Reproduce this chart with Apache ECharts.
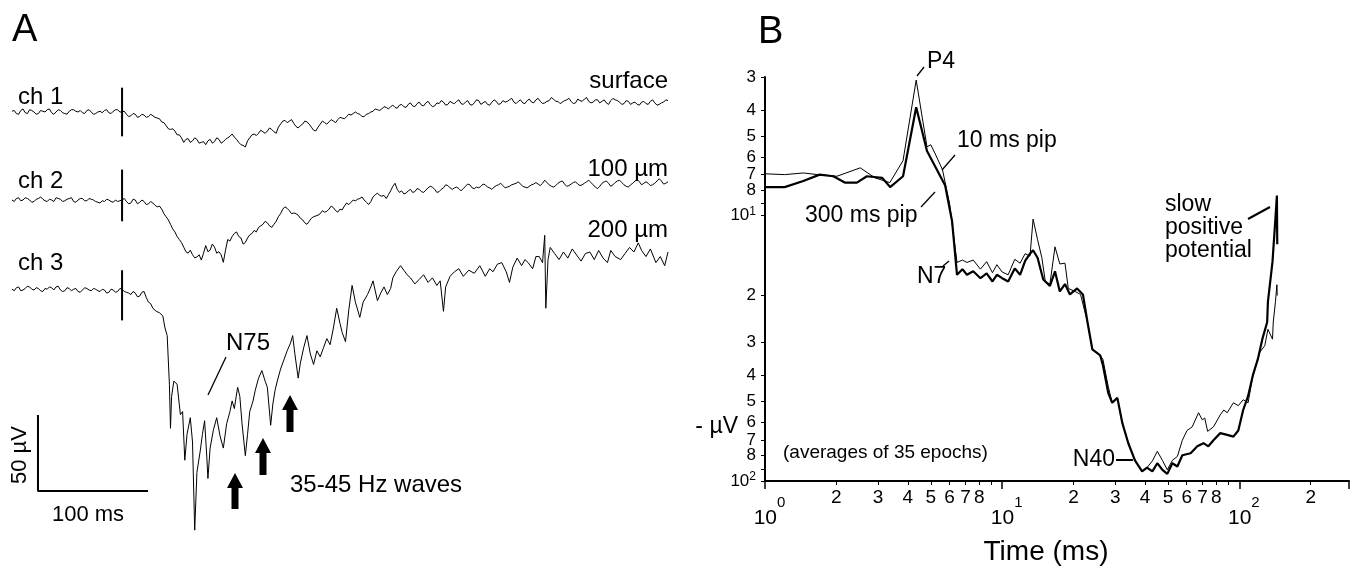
<!DOCTYPE html>
<html>
<head>
<meta charset="utf-8">
<script src="https://cdn.jsdelivr.net/npm/echarts@6/dist/echarts.min.js"></script>
<style>
html, body { margin: 0; padding: 0; background: #fff; }
#main { width: 1351px; height: 568px; }
</style>
</head>
<body>
<div id="main"></div>
<script>
// ---- panel A : single trials, sampled every 2 ms from -100 ms (stimulus at 0), uV
var tStart = -100, tStep = 2;
var ch1 = [
	0.5,1,-1,-1.5,1,2,-0.5,-1,1.5,1,  0,-1.5,-1,1,0.5,0,1.5,2,-0.5,-1.5,
	0,1.5,1,-0.5,-1,-1.5,0.5,1.5,1.5,0.5,  0,1,-0.5,-1,1,1.5,0,-1.5,-1,0,
	0.5,-0.5,1,1.5,-0.5,-1,0.5,1.5,1.5,0,
	0,0.5,-1.5,-3,-2.5,-1,-1.5,-3.5,-3,-1.5,  -2,-3.5,-3,-1.5,-2.5,-3.5,-4,-4.5,-6.5,-7,
	-9,-11,-11.5,-11,-12.5,-15,-15,-17,-20,-18,  -17.5,-20,-19,-17,-18,-20.5,-20,-19.5,-21.5,-19,
	-18,-20.5,-19.5,-17,-18,-20.5,-19.5,-18,-17,-16,  -14.5,-16.5,-18,-20,-21.5,-22,-23,-19,-17,-15,
	-14.5,-15.5,-14,-12,-13,-14,-12.5,-10.5,-11.5,-13,  -14,-10,-8,-6,-5.5,-7,-6,-5,-7.5,-9.5,
	-10.5,-9,-8,-6,-6.5,-8,-10,-12,-12.5,-10,  -8,-6,-7,-8,-6.5,-5,-6,-7,-5,-3.5,
	-4,-4.5,-3,-1.5,-2,-1,0,-1,-1.5,-3,  -3,-1.5,-1,0,0.5,2,1.5,1,2,3.5,
	3,2,3.5,4.5,3,2.5,4.5,5,3.5,3,  5,6,4,3.5,5.5,6.5,4.5,4,6,7,
	5,3.5,4,6,5.5,7.5,6.5,4.5,5,7,  6,5.5,7,8,5.5,5,6.5,7.5,5,4.5,
	6,8,7.5,5,6,7,5,4.5,6.5,8,  7,5,5.5,7.5,6.5,7,8,9,6.5,5.5,
	7,8,6,5.5,7.5,8.5,6.5,6,8,9,  7,5.5,6,7,7.5,9.5,8.5,7,7,5.5,
	6.5,7.5,8,9,7,5.5,6,8.5,7.5,7,  8.5,9.5,7,6,6.5,8,8,6,7,8,
	6,5,7.5,9,8,7.5,6.5,5,5.5,7.5,  7,5,6,6.5,5,4.5,6.5,7,5.5,5,
	7,8,6,4.5,5,6,6.5,8,7.5];
var ch2 = [
	0,-1,1,1.5,-0.5,0,1.5,1,0,-1.5,  -1,0.5,1,2,0.5,-0.5,-1,0.5,0,-1,
	1.5,1,0.5,-1,-0.5,0.5,1,1.5,-1,-1.5,  0,1,1,-0.5,-0.5,1,0.5,0,-1,-1.5,
	-2,-0.5,-1,0.5,0,-1,-1.5,0,-1,-0.5,
	0,1,-1,-2.5,-2,0.5,0,-2.5,-1.5,0,  -1,-3,-2.5,-1,-2,-3.5,-4.5,-4,-6,-9,
	-11,-13,-16,-19,-21,-24,-26,-28,-31,-34,  -35,-33,-36,-38,-37.5,-36,-39.5,-35,-30,-34,
	-33,-29,-31,-35,-34,-36,-41,-33,-26,-27,  -24,-22,-21,-24,-25,-29,-28,-25,-23,-22,
	-20,-21,-18,-17,-16,-14,-15,-17,-18,-16,  -14,-11,-9,-6,-4.5,-5.5,-7,-9,-8.5,-9,
	-10,-12,-13,-15,-16,-14,-12,-11,-10.5,-10,  -9,-7,-8,-7.5,-6,-4,-5,-7,-8,-6,
	-6.5,-4,-2,-3,-1.5,0,-0.5,0.5,1,2,  0,-1.5,-3,-1,2,3.5,4.5,3,2.5,3,
	1,3.5,6,9,11,7,5,6,4,4.5,  6,7,5,5.5,7.5,7,5.5,5,6.5,8,
	9,8.5,7,5,5.5,7,8,10,9.5,8,  7,8,8.5,7.5,6,7.5,9,10.5,10,8,
	7.5,8.5,8,9,10.5,10,8.5,8,7,8.5,  9.5,10,11,9.5,8,8.5,9,10,10.5,11,
	12,10.5,9,8.5,8,9,10,10.5,11.5,10.5,  9.5,11,13,11.5,10,9,8.5,9.5,11,12,
	12.5,10.5,9,9.5,10.5,11.5,12,10.5,9.5,10,  11,12,13,11.5,10,8.5,7.5,9,11,12,
	12.5,11,9,10,11.5,12.5,13,11.5,10,9,  8.5,10,11,12.5,13.5,12,10,11,12,11,
	9.5,10,11,12.5,14,12.5,10.5,11,12];
// ch3 digitised as [ms, uV] pairs, denser where it is spiky
var ch3 = [[-100,0.5],[-98,-0.5],[-96,1.5],[-94,2],[-92,-0.5],[-90,0],[-88,1],[-86,2.5],[-84,2],[-82,0.5],[-80,0],[-78,1.5],
	[-76,1],[-74,-0.5],[-72,-1],[-70,1],[-68,0.5],[-66,2],[-64,1.5],[-62,0],[-60,2],[-58,2.5],[-56,0],[-54,-1],[-52,-0.5],
	[-50,1.5],[-48,1],[-46,-0.5],[-44,0.5],[-42,1],[-40,-1],[-38,-1.5],[-36,0],[-34,1.5],[-32,1],[-30,0],[-28,-0.5],[-26,1],
	[-24,0.5],[-22,-0.5],[-20,-1],[-18,0.5],[-16,0],[-14,-2],[-12,-1.5],[-10,0.5],[-8,0],[-6,-1.5],[-4,-1],[-2,1],[0,0.5],
	[2,-1],[4,-1.5],[6,-2],[8,-3],[10,-1],[12,-2],[14,-4.5],[16,-4],[18,-1.5],[20,-1],[22,-5],[24,-8],[26,-9],[28,-12],
	[31,-14],[34,-15],[37,-17],[39,-25],[41,-30],[43,-62],[44,-91],
	[45,-70],[47,-60],[50,-62],[53,-82],[55,-80],[57,-112],[59,-95],[62,-84],[64,-100],[66,-158],[68,-120],[71,-106],[73,-95],
	[75,-86],[77,-110],[78,-124],[80,-104],[83,-92],[86,-84],[89,-96],[92,-104],[95,-88],[98,-80],[100,-73],[102,-78],[105,-64],
	[107,-70],[109,-88],[112,-109],[114,-95],[116,-80],[119,-73],[121,-66],[124,-58],[127,-53],[130,-60],[132,-64],[135,-89],
	[137,-75],[139,-66],[141,-60],[144,-52],[147,-46],[150,-40],[153,-35],[155,-30],[157,-42],[160,-58],[162,-48],[165,-38],
	[168,-30],[171,-42],[174,-49],[177,-40],[180,-44],[183,-38],[186,-32],[189,-36],[192,-25],[195,-12],[198,-22],[200,-28],
	[203,-34],[206,-13],[209,3],[212,-8],[216,-18],[219,-8],[223,-3],[226,2],[228,6],[232,-7],[235,-2],[238,2],[241,-3],[244,1],
	[246,8],[249,12],[253,16],[256,13],[259,10],[262,8],[266,4],[270,7],[274,10],[278,5],[282,8],[286,3],[289,6],[292,-14],
	[294,2],[298,9],[302,12],[306,14],[310,9],[315,13],[320,11],[325,16],[330,9],[334,14],[337,12],[341,17],[345,18],[349,12],
	[352,5],[355,15],[359,21],[363,16],[366,20],[369,18],[373,14],[376,22],[379,22],[382,18],[384,36],[385,-12],[387,20],[389,28],
	[393,24],[397,20],[401,25],[405,21],[409,27],[413,23],[417,19],[421,24],[425,25],[429,20],[433,26],[437,21],[441,18],[444,26],
	[448,22],[453,20],[457,24],[461,28],[465,25],[469,31],[472,26],[476,22],[480,27],[485,18],[489,22],[493,16],[496,25]];
var scaleBarMs = 100, scaleBarUv = 50;

// ---- panel B : averages, time (ms) against -uV, both log
var pip10Time = [1,1.21,1.45,1.67,2.01,2.52,2.91,3.36,3.82,4.34,4.82,5.0,5.2,5.6,6.0,6.45,6.8,7.1,7.55,8.1,8.6,9.1,9.5,10.0,10.6,
	11.3,11.9,12.5,13.1,13.5,14.1,14.7,15.2,15.9,16.7,17.5,18.4,19.0,20.3,21.4,22.9,24.0,25.9,26.6,28.0,29.1,30.6,32.1,34.0,36.3,
	38.9,40.8,43.0,45.1,47.4,49.7,52.2,54.8,57.5,60.2,63.3,67.3,69.8,71.5,73.5,77.8,83.1,86,88.9,94.4,99,103.8,108.9,114,122,128,
	132,138,139,142,144,144.5];
var pip10Uv = [6.95,7.0,6.9,7.0,7.1,6.6,7.2,7.5,6.2,3.08,5.5,5.4,5.8,6.7,9.0,15,14.7,15,14.7,15.9,14.9,16.4,15.3,16.3,16.7,
	14.6,15.1,13.9,14.2,10.3,12.3,14.4,17.7,18.1,13.1,15.2,15.1,18.8,19.3,19.8,25.2,31.9,33.6,34.8,44,50.7,48.6,60.4,71.9,83.6,
	92,89,84,77.3,83.6,90.8,83.6,80.8,70.2,64.5,62.5,55.3,58.8,57.9,65,62.5,56.3,54,55.3,50.7,52,49.4,50.7,40,32.7,30.9,
	26.8,29.2,25.2,21.1,18.2,20];
var pip300Time = [1,1.21,1.45,1.7,1.94,2.17,2.44,2.69,3.12,3.37,3.82,4.34,4.82,5.3,5.75,6.15,6.45,6.8,7.1,7.55,8.1,8.6,9.1,9.5,
	10.0,10.6,11.3,11.9,12.5,13.1,13.5,14.1,14.9,15.9,16.7,17.5,18.4,19.3,20.7,21.9,22.9,24.0,25.9,26.6,28.0,29.1,30.6,32.1,34.0,
	36.3,38.9,40.8,43.0,45.1,47.4,49.7,52.2,54.8,57.5,62.3,66.5,70.6,74,77.8,83.1,88.9,94.4,99,103.8,108.9,114,119.6,125,131,132,
	138,142,144,144.5];
var pip300Uv = [7.8,7.8,7.4,7.0,7.1,7.5,7.5,7.1,7.2,7.8,7.1,3.9,5.7,6.7,7.7,10.5,16.7,15.9,16.7,16.2,17.2,16.5,17.7,16.7,
	17.2,17.7,15.8,16.7,14.8,13.9,13.5,14.4,17.4,18.4,16.2,19.3,18.1,19.8,18.8,19.8,25.2,31.9,33.6,36.6,46.5,50.7,48.6,60.4,71.9,
	83.6,92,89,92,85.7,90.8,94,85.7,88.2,80,78.6,74,72,74,70.2,66,67,68,64.5,54,47.8,40,34.8,29.2,25.2,21.1,
	14.9,10.2,8.4,12.8];

var yTickVals = [3,4,5,6,7,8,9,10,20,30,40,50,60,70,80,90,100];
var yLabelVals = [3,4,5,6,7,8,10,20,30,40,50,60,70,80,100];
var xTickVals = [2,3,4,5,6,7,8,9,20,30,40,50,60,70,80,90,200];
var xLabelVals = [1,2,3,4,5,6,7,8,10,20,30,40,50,60,70,80,100,200];

// ---- layout
var FONT = '"Liberation Sans", Arial, sans-serif';
var pxPerUv = 1.52;
var base = [300, 242.1, 182.9];         // baselines of ch1..ch3 in panel A units
var stim = [[16, -16], [20, -14], [13, -20]];

function sampled(vals, off) {
	return vals.map(function (v, i) { return [tStart + i * tStep, v + off]; });
}
function shifted(pairs, off) {
	return pairs.map(function (p) { return [p[0], p[1] + off]; });
}
function zip(a, b) {
	return a.map(function (t, i) { return [t, b[i]]; });
}
function lg(v) { return Math.log10(v); }
// decades read 10^n, the rest only their leading digit
function powLabel(v) {
	var e = Math.floor(v + 1e-9);
	var m = Math.round(Math.pow(10, v - e));
	if (m === 1) return '{b|10}{s|' + e + '}';
	return '{m|' + m + '}';
}

var series = [];
function trace(data, w, xi, yi) {
	series.push({
		type: 'line', data: data, xAxisIndex: xi, yAxisIndex: yi,
		showSymbol: false, silent: true, animation: false,
		lineStyle: { color: '#000', width: w }
	});
}
trace(sampled(ch1, base[0]), 1, 0, 0);
trace(sampled(ch2, base[1]), 1, 0, 0);
trace(shifted(ch3, base[2]), 1, 0, 0);
for (var i = 0; i < 3; i++) {
	trace([[0, base[i] + stim[i][0]], [0, base[i] + stim[i][1]]], 2, 0, 0);
}
var sbT = -76.4, sbV = 50.7;
trace([[sbT, sbV + scaleBarUv], [sbT, sbV], [sbT + scaleBarMs, sbV]], 2, 0, 0);
trace(zip(pip10Time, pip10Uv), 1, 1, 1);
trace(zip(pip300Time, pip300Uv), 2.2, 1, 1);

// annotations
var g = [];
function txt(x, y, s, size, align) {
	g.push({ type: 'text', x: x, y: y, silent: true,
		style: { text: s, font: size + 'px ' + FONT, fill: '#000', align: align || 'left', verticalAlign: 'middle' } });
}
function seg(x1, y1, x2, y2, w) {
	g.push({ type: 'line', silent: true, shape: { x1: x1, y1: y1, x2: x2, y2: y2 },
		style: { stroke: '#000', lineWidth: w || 1.3 } });
}
function arrow(cx, tip, bottom) {
	g.push({ type: 'polygon', silent: true,
		shape: { points: [[cx, tip], [cx + 8, tip + 15], [cx + 3.5, tip + 15], [cx + 3.5, bottom],
			[cx - 3.5, bottom], [cx - 3.5, tip + 15], [cx - 8, tip + 15]] },
		style: { fill: '#000' } });
}
txt(12, 31, 'A', 38);
txt(18, 97, 'ch 1', 24);
txt(668, 81, 'surface', 24, 'right');
txt(18, 181, 'ch 2', 24);
txt(668, 169, '100 \u00b5m', 24, 'right');
txt(18, 263, 'ch 3', 24);
txt(668, 230, '200 \u00b5m', 24, 'right');
txt(226, 343, 'N75', 24);
seg(226, 357, 208, 395);
arrow(235, 473, 509);
arrow(263, 438, 475);
arrow(290, 395, 432);
txt(290, 485, '35-45 Hz waves', 24);
g.push({ type: 'text', x: 20, y: 455, rotation: Math.PI / 2, silent: true,
	style: { text: '50 \u00b5V', font: '22px ' + FONT, fill: '#000', align: 'center', verticalAlign: 'middle' } });
txt(88, 515, '100 ms', 22, 'center');

txt(758, 33, 'B', 38);
txt(927, 62, 'P4', 23);
seg(917, 76, 924, 67);
txt(957, 141, '10 ms pip', 23);
seg(955, 155, 942, 170);
txt(805, 216, '300 ms pip', 23);
seg(921, 207, 935, 192);
txt(917, 277, 'N7', 23);
seg(943, 266, 949, 261);
txt(1115, 460, 'N40', 23, 'right');
seg(1116, 460, 1133, 460, 2);
txt(1165, 205, 'slow', 23);
txt(1165, 228, 'positive', 23);
txt(1165, 251, 'potential', 23);
seg(1248, 219, 1270, 207, 2);
txt(783, 453, '(averages of 35 epochs)', 19);
txt(1046, 552, 'Time (ms)', 28, 'center');
txt(738, 427, '- \u00b5V', 23, 'right');

var chart = echarts.init(document.getElementById('main'));
chart.setOption({
	animation: false,
	backgroundColor: '#fff',
	grid: [
		{ left: 12, top: 0, width: 656, height: 568 },
		{ left: 765, top: 77, width: 584, height: 404 }
	],
	xAxis: [
		{ type: 'value', gridIndex: 0, min: tStart, max: 496, show: false },
		{ type: 'log', logBase: 10, gridIndex: 1, min: 1, max: 290,
			axisLine: { lineStyle: { color: '#000', width: 2 } },
			axisTick: { length: 8, lineStyle: { color: '#000', width: 1.5 } },
			axisLabel: { show: false }, splitLine: { show: false } },
		{ type: 'value', gridIndex: 1, min: 0, max: lg(290), position: 'bottom',
			axisLine: { show: false, onZero: false },
			axisTick: { show: true, length: 4, customValues: xTickVals.map(lg), lineStyle: { color: '#000' } },
			axisLabel: { customValues: xLabelVals.map(lg), margin: 7, color: '#000',
				formatter: powLabel,
				rich: {
					m: { fontSize: 19, fontFamily: FONT, color: '#000' },
					b: { fontSize: 21, fontFamily: FONT, color: '#000', padding: [20, 0, 0, 9] },
					s: { fontSize: 15, fontFamily: FONT, color: '#000', padding: [0, 0, 12, 0] }
				} },
			splitLine: { show: false } }
	],
	yAxis: [
		{ type: 'value', gridIndex: 0, min: 0, max: 568 / pxPerUv, show: false },
		{ type: 'log', logBase: 10, gridIndex: 1, min: 3, max: 100, inverse: true,
			axisLine: { lineStyle: { color: '#000', width: 2 } },
			axisTick: { show: false }, axisLabel: { show: false }, splitLine: { show: false } },
		{ type: 'value', gridIndex: 1, min: lg(3), max: 2, inverse: true, position: 'left',
			axisLine: { show: false, onZero: false },
			axisTick: { show: true, length: 4, customValues: yTickVals.map(lg), lineStyle: { color: '#000' } },
			axisLabel: { customValues: yLabelVals.map(lg), margin: 9, color: '#000',
				formatter: powLabel,
				rich: {
					m: { fontSize: 17, fontFamily: FONT, color: '#000' },
					b: { fontSize: 17, fontFamily: FONT, color: '#000' },
					s: { fontSize: 12, fontFamily: FONT, color: '#000', padding: [0, 0, 9, 0] }
				} },
			splitLine: { show: false } }
	],
	series: series,
	graphic: g
});
</script>
</body>
</html>
